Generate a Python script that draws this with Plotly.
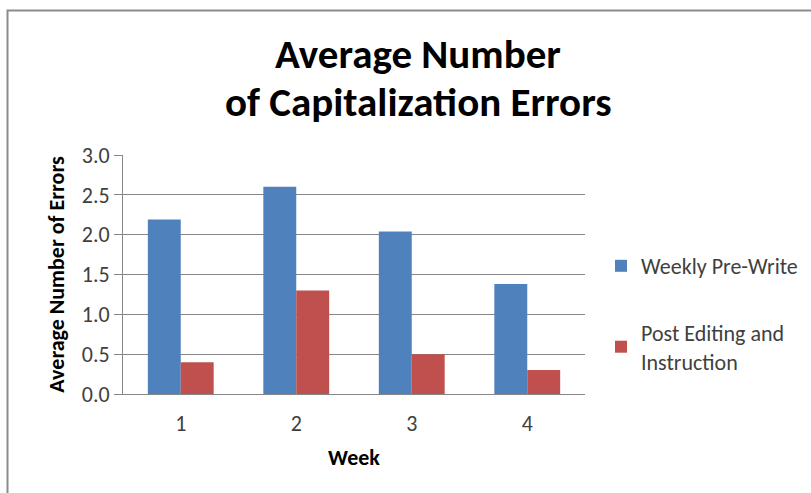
import plotly.graph_objects as go

weeks = ["1", "2", "3", "4"]
pre_write = [2.19, 2.6, 2.04, 1.38]
post_edit = [0.4, 1.3, 0.5, 0.3]
y_ticks = [0, 0.5, 1.0, 1.5, 2.0, 2.5, 3.0]
y_tick_labels = ["0.0", "0.5", "1.0", "1.5", "2.0", "2.5", "3.0"]
title_lines = ["Average Number", "of Capitalization Errors"]

FONT = "Carlito, Calibri, Lato, sans-serif"

fig = go.Figure()
fig.add_trace(go.Bar(x=weeks, y=pre_write, name="Weekly Pre-Write",
                     marker=dict(color="#4F81BD", line=dict(width=0)),
                     legendgroup="a"))
fig.add_trace(go.Bar(x=weeks, y=post_edit, name="Post Editing and<br>Instruction",
                     marker=dict(color="#C0504D", line=dict(width=0)),
                     legendgroup="b"))

L, R, T, B = 123, 585, 155, 394
W, H = 811, 493
pw, ph = R - L, B - T

def px(x):
    return (x - L) / pw

def py(y):
    return (B - y) / ph

annotations = []
for line, yc in zip(title_lines, [54, 102]):
    annotations.append(dict(text="<b>%s</b>" % line, xref="paper", yref="paper",
                            x=px(418), y=py(yc), xanchor="center", yanchor="middle",
                            showarrow=False,
                            font=dict(family=FONT, size=41, color="black")))

fig.update_layout(
    width=W, height=H,
    margin=dict(l=L, r=W - R, t=T, b=H - B, pad=0, autoexpand=False),
    paper_bgcolor="white", plot_bgcolor="white",
    barmode="group", bargap=0.43, bargroupgap=0,
    font=dict(family=FONT, color="#404040", size=22),
    annotations=annotations,
    xaxis=dict(showgrid=False, showline=True, linecolor="#868686", linewidth=1,
               ticks="", tickfont=dict(size=22, color="#404040"),
               ticklabelstandoff=10,
               title=dict(text="<b>Week</b>", font=dict(size=22, color="black"),
                          standoff=13)),
    yaxis=dict(range=[0, 3.0], tickvals=y_ticks, ticktext=y_tick_labels,
               showgrid=True, gridcolor="#868686", gridwidth=1,
               showline=True, linecolor="#868686", linewidth=1,
               ticks="outside", ticklen=8, tickcolor="#868686",
               tickfont=dict(size=22, color="#404040"), zeroline=False,
               title=dict(text="<b>Average Number of Errors</b>",
                          font=dict(size=22, color="black"), standoff=11)),
    legend=dict(x=px(601), y=py(245), xanchor="left", yanchor="top",
                font=dict(size=22, color="#404040"),
                tracegroupgap=35, bgcolor="rgba(0,0,0,0)"),
    showlegend=True,
)

fig.add_shape(type="rect", xref="paper", yref="paper",
              x0=px(7.5), y0=py(498), x1=px(816), y1=py(10.5),
              line=dict(color="#8C8C8C", width=2), layer="below")

fig.write_html("out.html", config={"displayModeBar": False},
               post_script="document.body.style.margin='0';document.body.style.overflow='hidden';")
